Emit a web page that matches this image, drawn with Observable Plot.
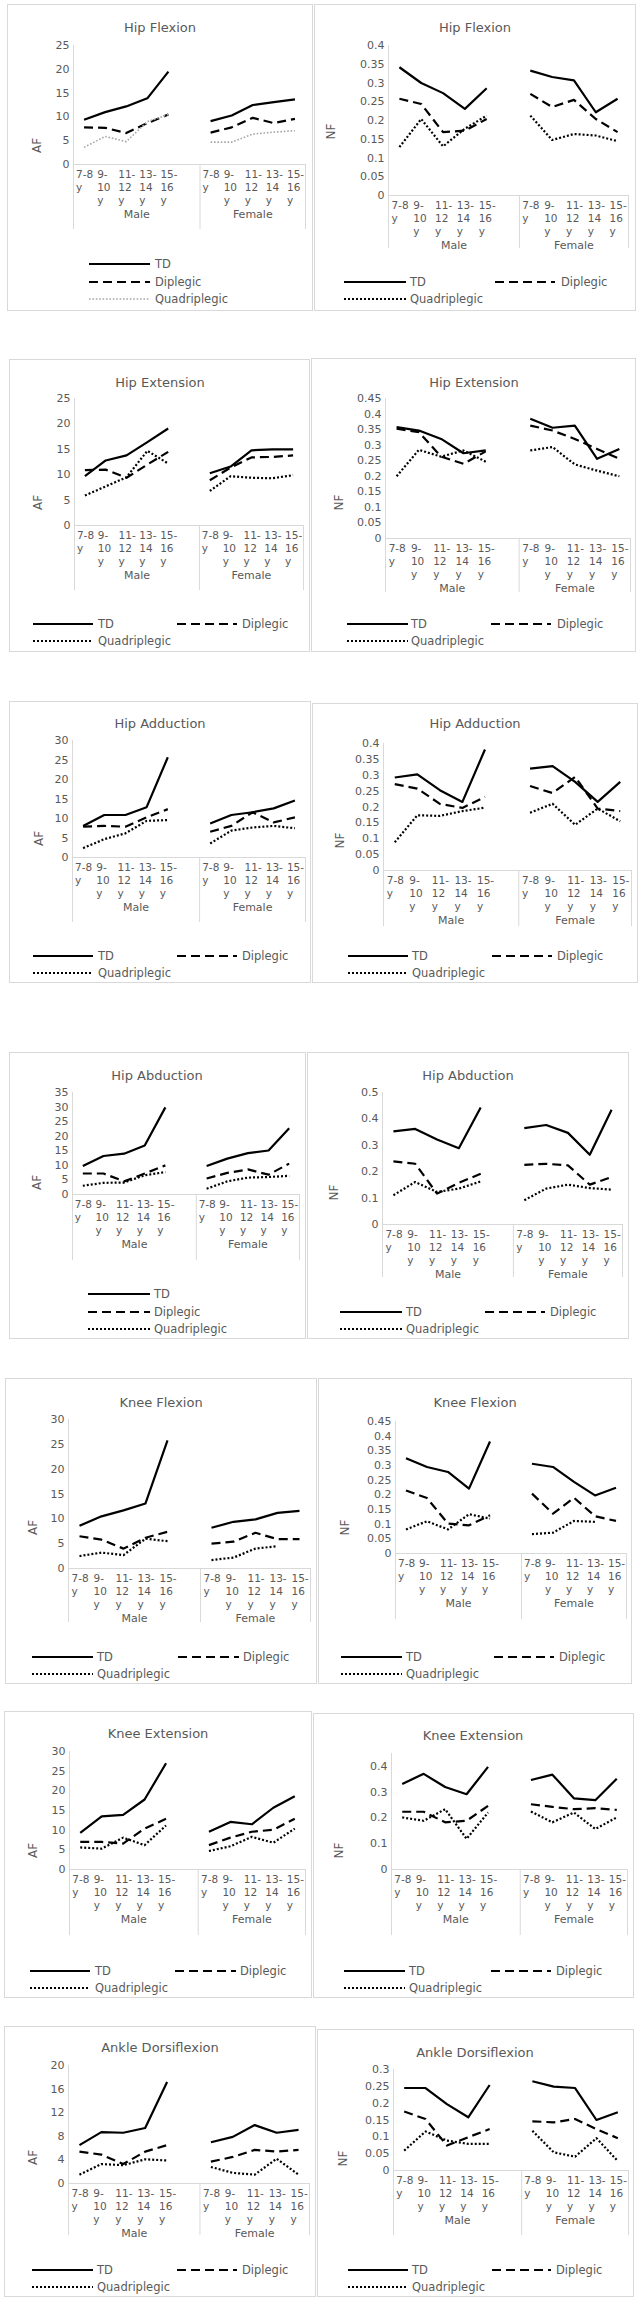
<!DOCTYPE html>
<html><head><meta charset="utf-8">
<script src="https://cdn.jsdelivr.net/npm/d3@7"></script>
<script src="https://cdn.jsdelivr.net/npm/@observablehq/plot@0.6"></script>
<style>
body{margin:0;background:#fff;}
#root{position:relative;width:639px;height:2302px;background:#fff;font-family:"DejaVu Sans",sans-serif;overflow:hidden}
.panel{position:absolute;border:1px solid #d9d9d9;box-sizing:border-box;background:#fff}
.title{position:absolute;transform:translate(-50%,-50%);font-size:13px;color:#595959;white-space:nowrap}
.leg{position:absolute;font-size:11.5px;color:#595959;white-space:nowrap;transform:translateY(-50%);line-height:14px}
</style></head><body><div id="root"></div><script>
// ---- categories ----
const ageGroups = ["7-8\ny", "9-\n10\ny", "11-\n12\ny", "13-\n14\ny", "15-\n16\ny"];
const genders = ["Male", "Female"];
const groups = ["TD", "Diplegic", "Quadriplegic"];

// ---- tick labels ----
const ticksAF25 = [0, 5, 10, 15, 20, 25];
const ticksAF30 = [0, 5, 10, 15, 20, 25, 30];
const ticksAF35 = [0, 5, 10, 15, 20, 25, 30, 35];
const ticksAF20 = [0, 4, 8, 12, 16, 20];
const ticksNF40 = [0, 0.05, 0.1, 0.15, 0.2, 0.25, 0.3, 0.35, 0.4];
const ticksNF45 = [0, 0.05, 0.1, 0.15, 0.2, 0.25, 0.3, 0.35, 0.4, 0.45];
const ticksNF50 = [0, 0.1, 0.2, 0.3, 0.4, 0.5];
const ticksNF40b = [0, 0.1, 0.2, 0.3, 0.4];
const ticksNF30 = [0, 0.05, 0.1, 0.15, 0.2, 0.25, 0.3];

// ---- values: 5 male age groups then 5 female age groups ----
const hipFlexAF_TD = [9.4, 11.0, 12.2, 13.9, 19.5, 9.1, 10.3, 12.5, 13.1, 13.7];
const hipFlexAF_Di = [7.8, 7.7, 6.6, 8.7, 10.5, 6.7, 7.8, 9.8, 8.7, 9.6];
const hipFlexAF_Qu = [3.6, 5.9, 4.8, 9.0, 10.5, 4.7, 4.7, 6.4, 6.8, 7.1];
const hipFlexNF_TD = [0.342, 0.300, 0.273, 0.231, 0.286, 0.333, 0.316, 0.307, 0.222, 0.258];
const hipFlexNF_Di = [0.258, 0.244, 0.169, 0.173, 0.204, 0.271, 0.236, 0.255, 0.204, 0.169];
const hipFlexNF_Qu = [0.129, 0.204, 0.131, 0.178, 0.213, 0.213, 0.148, 0.164, 0.160, 0.145];

const hipExtAF_TD = [9.7, 12.8, 13.8, 16.4, 19.1, 10.3, 11.6, 14.8, 15.0, 15.0];
const hipExtAF_Di = [10.9, 11.0, 9.4, 12.0, 14.5, 8.9, 11.4, 13.4, 13.5, 13.8];
const hipExtAF_Qu = [5.9, 7.7, 9.5, 14.7, 12.2, 6.8, 9.7, 9.4, 9.3, 9.9];
const hipExtNF_TD = [0.358, 0.347, 0.320, 0.274, 0.283, 0.385, 0.356, 0.363, 0.256, 0.288];
const hipExtNF_Di = [0.353, 0.342, 0.263, 0.240, 0.280, 0.363, 0.347, 0.320, 0.288, 0.256];
const hipExtNF_Qu = [0.200, 0.285, 0.263, 0.283, 0.247, 0.283, 0.294, 0.238, 0.218, 0.200];

const hipAddAF_TD = [8.1, 10.9, 10.9, 12.9, 25.7, 8.7, 10.9, 11.6, 12.6, 14.6];
const hipAddAF_Di = [7.9, 8.1, 7.9, 10.3, 12.4, 6.6, 8.1, 11.6, 9.0, 10.3];
const hipAddAF_Qu = [2.4, 4.7, 6.2, 9.4, 9.6, 3.6, 6.9, 7.7, 8.1, 7.5];
const hipAddNF_TD = [0.293, 0.303, 0.253, 0.216, 0.381, 0.321, 0.329, 0.279, 0.216, 0.279];
const hipAddNF_Di = [0.272, 0.258, 0.210, 0.197, 0.232, 0.266, 0.244, 0.295, 0.195, 0.187];
const hipAddNF_Qu = [0.089, 0.174, 0.172, 0.187, 0.198, 0.182, 0.210, 0.144, 0.195, 0.155];

const hipAbdAF_TD = [9.8, 13.2, 14.0, 16.8, 29.9, 9.8, 12.3, 14.2, 15.1, 22.7];
const hipAbdAF_Di = [7.2, 7.2, 4.5, 7.2, 10.0, 5.5, 7.4, 8.6, 6.8, 10.6];
const hipAbdAF_Qu = [3.0, 4.0, 4.1, 6.6, 7.7, 2.0, 4.5, 5.8, 6.0, 6.4];
const hipAbdNF_TD = [0.353, 0.362, 0.322, 0.289, 0.443, 0.365, 0.377, 0.347, 0.264, 0.435];
const hipAbdNF_Di = [0.239, 0.230, 0.117, 0.158, 0.192, 0.226, 0.230, 0.224, 0.151, 0.180];
const hipAbdNF_Qu = [0.111, 0.161, 0.123, 0.136, 0.163, 0.092, 0.136, 0.151, 0.138, 0.132];

const kneeFlexAF_TD = [8.6, 10.5, 11.7, 13.1, 25.8, 8.2, 9.4, 9.9, 11.2, 11.6];
const kneeFlexAF_Di = [6.5, 5.8, 4.0, 6.2, 7.4, 5.0, 5.4, 7.2, 5.9, 5.9];
const kneeFlexAF_Qu = [2.5, 3.2, 2.7, 6.0, 5.5, 1.7, 2.2, 4.0, 4.5, null];
const kneeFlexNF_TD = [0.325, 0.295, 0.278, 0.221, 0.382, 0.306, 0.295, 0.244, 0.198, 0.224];
const kneeFlexNF_Di = [0.215, 0.189, 0.102, 0.096, 0.130, 0.204, 0.136, 0.190, 0.127, 0.111];
const kneeFlexNF_Qu = [0.082, 0.110, 0.082, 0.134, 0.119, 0.066, 0.071, 0.111, 0.108, null];

const kneeExtAF_TD = [9.3, 13.5, 13.9, 17.8, 27.0, 9.6, 12.1, 11.5, 15.7, 18.6];
const kneeExtAF_Di = [7.0, 7.0, 6.6, 10.4, 12.9, 6.2, 8.1, 9.6, 10.1, 12.9];
const kneeExtAF_Qu = [5.6, 5.3, 8.1, 6.2, 11.2, 4.7, 5.9, 8.3, 6.8, 10.4];
const kneeExtNF_TD = [0.332, 0.371, 0.320, 0.292, 0.398, 0.347, 0.368, 0.276, 0.269, 0.352];
const kneeExtNF_Di = [0.224, 0.224, 0.183, 0.189, 0.247, 0.253, 0.243, 0.234, 0.238, 0.231];
const kneeExtNF_Qu = [0.202, 0.189, 0.234, 0.119, 0.221, 0.225, 0.183, 0.221, 0.157, 0.202];

const ankDorsAF_TD = [6.5, 8.7, 8.6, 9.4, 17.2, 7.0, 7.9, 9.9, 8.6, 9.1];
const ankDorsAF_Di = [5.4, 4.9, 3.3, 5.4, 6.5, 3.7, 4.5, 5.7, 5.4, 5.7];
const ankDorsAF_Qu = [1.5, 3.3, 3.1, 4.1, 3.9, 2.8, 1.8, 1.5, 4.2, 1.5];
const ankDorsNF_TD = [0.245, 0.245, 0.197, 0.158, 0.254, 0.265, 0.249, 0.245, 0.150, 0.173];
const ankDorsNF_Di = [0.175, 0.153, 0.074, 0.099, 0.123, 0.146, 0.143, 0.153, 0.123, 0.096];
const ankDorsNF_Qu = [0.059, 0.116, 0.089, 0.079, 0.079, 0.118, 0.054, 0.041, 0.096, 0.028];

// ---- layout ----
const stack = (x1, x2, tx, ys) => ({type: "stack", x1, x2, tx, ys});
const grid = (a, b, ys) => ({type: "grid", a, b, ys});
const panels = [
  {title: "Hip Flexion", ylabel: "AF", box: [7, 4, 313, 311], tx: 160, ty: 27, axisX: 73, endX: 305, yTop: 45, y0: 164, max: 25, ticks: ticksAF25,
   data: [hipFlexAF_TD, hipFlexAF_Di, hipFlexAF_Qu], ext: 65, ldx: -36, ldy: -19, gray: true, legend: stack(89, 150, 155, [264, 282, 299])},
  {title: "Hip Flexion", ylabel: "NF", box: [314, 4, 636, 311], tx: 475, ty: 27, axisX: 388, endX: 628, yTop: 45, y0: 195, max: 0.4, ticks: ticksNF40,
   data: [hipFlexNF_TD, hipFlexNF_Di, hipFlexNF_Qu], ext: 53, ldx: -57, ldy: -64, legend: grid([344, 406, 410], [495, 555, 561], [282, 299])},

  {title: "Hip Extension", ylabel: "AF", box: [9, 359, 310, 652], tx: 160, ty: 382, axisX: 74, endX: 303, yTop: 398, y0: 525, max: 25, ticks: ticksAF25,
   data: [hipExtAF_TD, hipExtAF_Di, hipExtAF_Qu], ext: 65, ldx: -36, ldy: -23, legend: grid([33, 93, 98], [177, 237, 242], [624, 641])},
  {title: "Hip Extension", ylabel: "NF", box: [311, 358, 636, 652], tx: 474, ty: 382, axisX: 385, endX: 630, yTop: 398, y0: 538, max: 0.45, ticks: ticksNF45,
   data: [hipExtNF_TD, hipExtNF_Di, hipExtNF_Qu], ext: 54, ldx: -46, ldy: -36, legend: grid([347, 408, 411], [491, 551, 557], [624, 641])},

  {title: "Hip Adduction", ylabel: "AF", box: [9, 701, 311, 983], tx: 160, ty: 723, axisX: 72, endX: 305, yTop: 740, y0: 857, max: 30, ticks: ticksAF30,
   data: [hipAddAF_TD, hipAddAF_Di, hipAddAF_Qu], ext: 65, ldx: -33, ldy: -19, legend: grid([33, 93, 98], [177, 237, 242], [956, 973])},
  {title: "Hip Adduction", ylabel: "NF", box: [312, 703, 638, 983], tx: 475, ty: 723, axisX: 383, endX: 631, yTop: 743, y0: 870, max: 0.4, ticks: ticksNF40,
   data: [hipAddNF_TD, hipAddNF_Di, hipAddNF_Qu], ext: 56, ldx: -43, ldy: -30, legend: grid([348, 408, 412], [492, 552, 557], [956, 973])},

  {title: "Hip Abduction", ylabel: "AF", box: [9, 1052, 306, 1339], tx: 157, ty: 1075, axisX: 72, endX: 299, yTop: 1092, y0: 1194, max: 35, ticks: ticksAF35,
   data: [hipAbdAF_TD, hipAbdAF_Di, hipAbdAF_Qu], ext: 66, ldx: -35, ldy: -12, legend: stack(88, 150, 154, [1294, 1312, 1329])},
  {title: "Hip Abduction", ylabel: "NF", box: [307, 1052, 629, 1339], tx: 468, ty: 1075, axisX: 382, endX: 622, yTop: 1092, y0: 1224, max: 0.5, ticks: ticksNF50,
   data: [hipAbdNF_TD, hipAbdNF_Di, hipAbdNF_Qu], ext: 53, ldx: -48, ldy: -32, legend: grid([340, 402, 406], [485, 545, 550], [1312, 1329])},

  {title: "Knee Flexion", ylabel: "AF", box: [5, 1378, 317, 1684], tx: 161, ty: 1402, axisX: 68, endX: 310, yTop: 1419, y0: 1568, max: 30, ticks: ticksAF30,
   data: [kneeFlexAF_TD, kneeFlexAF_Di, kneeFlexAF_Qu], ext: 54, ldx: -35, ldy: -41, legend: grid([32, 93, 97], [178, 239, 243], [1657, 1674])},
  {title: "Knee Flexion", ylabel: "NF", box: [318, 1378, 632, 1684], tx: 475, ty: 1402, axisX: 395, endX: 626, yTop: 1421, y0: 1553, max: 0.45, ticks: ticksNF45,
   data: [kneeFlexNF_TD, kneeFlexNF_Di, kneeFlexNF_Qu], ext: 66, ldx: -50, ldy: -26, legend: grid([341, 402, 406], [494, 554, 559], [1657, 1674])},

  {title: "Knee Extension", ylabel: "AF", box: [4, 1711, 312, 1998], tx: 158, ty: 1733, axisX: 69, endX: 305, yTop: 1751, y0: 1869, max: 30, ticks: ticksAF30,
   data: [kneeExtAF_TD, kneeExtAF_Di, kneeExtAF_Qu], ext: 66, ldx: -36, ldy: -19, legend: grid([30, 90, 95], [175, 236, 240], [1971, 1988])},
  {title: "Knee Extension", ylabel: "NF", box: [313, 1713, 634, 1998], tx: 473, ty: 1735, axisX: 391, endX: 627, yTop: 1753, y0: 1869, max: 0.45, ticks: ticksNF40b,
   data: [kneeExtNF_TD, kneeExtNF_Di, kneeExtNF_Qu], ext: 66, ldx: -52, ldy: -19, legend: grid([344, 405, 409], [491, 551, 556], [1971, 1988])},

  {title: "Ankle Dorsiflexion", ylabel: "AF", box: [4, 2026, 316, 2297], tx: 160, ty: 2047, axisX: 68, endX: 309, yTop: 2065, y0: 2183, max: 20, ticks: ticksAF20,
   data: [ankDorsAF_TD, ankDorsAF_Di, ankDorsAF_Qu], ext: 52, ldx: -35, ldy: -26, legend: grid([32, 93, 97], [177, 237, 242], [2270, 2287])},
  {title: "Ankle Dorsiflexion", ylabel: "NF", box: [317, 2029, 634, 2297], tx: 475, ty: 2052, axisX: 393, endX: 628, yTop: 2069, y0: 2170, max: 0.3, ticks: ticksNF30,
   data: [ankDorsNF_TD, ankDorsNF_Di, ankDorsNF_Qu], ext: 65, ldx: -50, ldy: -12, legend: grid([348, 408, 412], [492, 551, 556], [2270, 2287])}
];

const styles = [
  {stroke: "#000", strokeWidth: 2.2, strokeDasharray: null},
  {stroke: "#000", strokeWidth: 2.2, strokeDasharray: "9,5"},
  {stroke: "#000", strokeWidth: 2.2, strokeDasharray: "2,2"}
];
const grayQuad = {stroke: "#a6a6a6", strokeWidth: 1.6, strokeDasharray: "1.6,1.8"};

const root = document.getElementById("root");
const catRows = ageGroups.flatMap((label, i) => [{x: i, label}, {x: i + 6, label}]);
const genderRows = genders.map((label, i) => ({label, x: i === 0 ? 2.5 : 8}));

function el(tag, cls, css, text) {
  const e = document.createElement(tag);
  if (cls) e.className = cls;
  Object.assign(e.style, css || {});
  if (text != null) e.textContent = text;
  return e;
}
function swatch(x1, x2, y, st) {
  const ns = "http://www.w3.org/2000/svg";
  const s = document.createElementNS(ns, "svg");
  s.setAttribute("width", x2 - x1); s.setAttribute("height", 8);
  s.style.position = "absolute"; s.style.left = x1 + "px"; s.style.top = (y - 4) + "px";
  const l = document.createElementNS(ns, "line");
  l.setAttribute("x1", 0); l.setAttribute("x2", x2 - x1); l.setAttribute("y1", 4); l.setAttribute("y2", 4);
  l.setAttribute("stroke", st.stroke); l.setAttribute("stroke-width", st.strokeWidth);
  if (st.strokeDasharray) l.setAttribute("stroke-dasharray", st.strokeDasharray);
  s.appendChild(l);
  root.appendChild(s);
}
function legendItem(x1, x2, tx, y, st, label) {
  swatch(x1, x2, y, st);
  root.appendChild(el("div", "leg", {left: tx + "px", top: y + "px"}, label));
}

for (const p of panels) {
  const [bx1, by1, bx2, by2] = p.box;
  root.appendChild(el("div", "panel", {left: bx1 + "px", top: by1 + "px", width: (bx2 - bx1) + "px", height: (by2 - by1) + "px"}));
  root.appendChild(el("div", "title", {left: p.tx + "px", top: p.ty + "px"}, p.title));

  const svgTop = p.yTop - 10;
  const width = bx2 - bx1;
  const height = p.y0 + p.ext - svgTop + 1;
  const lineMarks = groups.map((g, gi) => {
    const rows = p.data[gi].map((v, i) => ({x: i < 5 ? i : i + 1, v, gender: i < 5 ? "Male" : "Female"}));
    const st = (gi === 2 && p.gray) ? grayQuad : styles[gi];
    return Plot.line(rows, {x: "x", y: "v", z: "gender", stroke: st.stroke, strokeWidth: st.strokeWidth,
      strokeDasharray: st.strokeDasharray || undefined, strokeLinejoin: "round", strokeLinecap: "butt"});
  });
  const chart = Plot.plot({
    width, height,
    marginLeft: p.axisX - bx1, marginRight: bx2 - p.endX, marginTop: p.y0 - svgTop, marginBottom: 1,
    style: {fontFamily: "DejaVu Sans, sans-serif", fontSize: "11px", color: "#595959", background: "transparent", overflow: "visible"},
    x: {type: "linear", domain: [-0.5, 10.5], axis: null},
    y: {type: "linear", domain: [0, p.max], range: [p.y0 - svgTop, p.yTop - svgTop]},
    marks: [
      Plot.ruleY([0], {stroke: "#d9d9d9"}),
      Plot.ruleX([-0.5, 5.5, 10.5], {stroke: "#d9d9d9"}),
      Plot.ruleX([-0.5], {y1: () => 0, y2: () => p.max, stroke: "#d9d9d9"}),
      Plot.axisY(p.ticks, {tickSize: 0, tickPadding: 4, tickFormat: d3.format("~g"), label: null, fontSize: 11, fill: "#595959"}),
      Plot.text(catRows, {x: "x", y: () => 0, text: "label", textAnchor: "start", lineAnchor: "top", dx: -8, dy: 4, lineHeight: 1.25, fontSize: 10.5, fill: "#595959"}),
      Plot.text(genderRows, {x: "x", y: () => 0, text: "label", dy: 50, fontSize: 11, fill: "#595959"}),
      Plot.text([p.ylabel], {x: () => -0.5, y: () => 0, text: d => d, rotate: -90, dx: p.ldx, dy: p.ldy, fontSize: 12, fill: "#595959"}),
      ...lineMarks
    ]
  });
  chart.style.position = "absolute";
  chart.style.left = bx1 + "px";
  chart.style.top = svgTop + "px";
  root.appendChild(chart);

  const lg = p.legend;
  const sts = groups.map((g, gi) => (gi === 2 && p.gray) ? grayQuad : styles[gi]);
  if (lg.type === "stack") {
    groups.forEach((g, gi) => legendItem(lg.x1, lg.x2, lg.tx, lg.ys[gi], sts[gi], g));
  } else {
    legendItem(lg.a[0], lg.a[1], lg.a[2], lg.ys[0], sts[0], groups[0]);
    legendItem(lg.b[0], lg.b[1], lg.b[2], lg.ys[0], sts[1], groups[1]);
    legendItem(lg.a[0], lg.a[1], lg.a[2], lg.ys[1], sts[2], groups[2]);
  }
}
</script></body></html>
